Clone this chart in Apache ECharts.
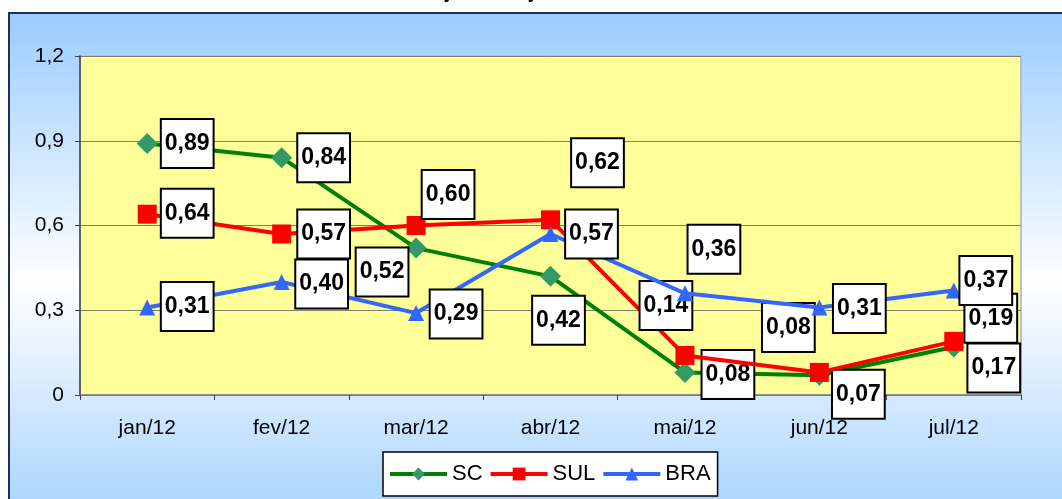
<!DOCTYPE html>
<html>
<head>
<meta charset="utf-8">
<script src="https://cdn.jsdelivr.net/npm/echarts@6/dist/echarts.min.js"></script>
<style>
html,body{margin:0;padding:0;background:#fff;}
#c{width:1062px;height:499px;}
</style>
</head>
<body>
<div id="c"></div>
<script>
const categories = ['jan/12','fev/12','mar/12','abr/12','mai/12','jun/12','jul/12'];
const scValues  = [0.89, 0.84, 0.52, 0.42, 0.08, 0.07, 0.17];
const sulValues = [0.64, 0.57, 0.60, 0.62, 0.14, 0.08, 0.19];
const braValues = [0.31, 0.40, 0.29, 0.57, 0.36, 0.31, 0.37];
const yTicks = [0, 0.3, 0.6, 0.9, 1.2];

// label box offsets (px) relative to each point – styling only
const scLabelOffsets  = [[40,0],[42,0],[-34,24],[8,44],[43,2],[39,19],[40,21]];
const sulLabelOffsets = [[40,-1],[42,0],[32,-31],[47,-57],[-19,-50],[-31,-45],[37,-23]];
const braLabelOffsets = [[40,-1],[40,2],[40,1],[41,0],[29,-44],[40,1],[32,-10]];

const FONT = 'Arial, "Liberation Sans", sans-serif';
const fmt = v => Number(v).toFixed(2).replace('.', ',');

const labelBase = {
  show: true,
  position: 'inside',
  formatter: p => fmt(p.value),
  color: '#000',
  fontFamily: FONT,
  fontWeight: 'bold',
  fontSize: 23,
  lineHeight: 23,
  backgroundColor: '#fff',
  borderColor: '#000',
  borderWidth: 2,
  padding: [12, 3, 12, 3]
};

function buildData(values, offsets) {
  return values.map((v, i) => ({
    value: v,
    label: Object.assign({}, labelBase, { offset: offsets[i] })
  }));
}

const chart = echarts.init(document.getElementById('c'), null, {renderer: 'canvas'});
chart.setOption({
  animation: false,
  backgroundColor: '#fff',
  graphic: [
    {
      type: 'rect',
      z: -100,
      silent: true,
      shape: {x: 9, y: 13, width: 1200, height: 540},
      style: {
        fill: {
          type: 'linear', x: 0, y: 0, x2: 0, y2: 1,
          colorStops: [
            {offset: 0, color: '#99CCFF'},
            {offset: 0.5, color: '#FFFFFF'},
            {offset: 1, color: '#99CCFF'}
          ]
        },
        stroke: '#1F2F4F',
        lineWidth: 2
      }
    },
    {
      type: 'text', z: -50, silent: true,
      left: 445, top: -18,
      style: {text: 'j', font: 'bold 20px ' + FONT, fill: '#000'}
    },
    {
      type: 'text', z: -50, silent: true,
      left: 529, top: -18,
      style: {text: 'j', font: 'bold 20px ' + FONT, fill: '#000'}
    }
  ],
  grid: {
    left: 80, right: 41, top: 56, bottom: 104,
    show: true,
    backgroundColor: '#FFFF99',
    borderColor: '#BFBFBF',
    borderWidth: 2
  },
  legend: {
    left: 383, top: 452,
    data: ['SC', 'SUL', 'BRA'],
    itemWidth: 57, itemHeight: 16, itemGap: 6,
    padding: [11, 7, 11, 5],
    backgroundColor: '#fff',
    borderColor: '#000',
    borderWidth: 1.5,
    lineStyle: {width: 4},
    textStyle: {fontFamily: FONT, fontSize: 22, color: '#000'}
  },
  xAxis: {
    type: 'category',
    data: categories,
    boundaryGap: true,
    axisLine: {lineStyle: {color: '#808080', width: 1.5}},
    axisTick: {show: true, alignWithLabel: false, length: 5, lineStyle: {color: '#404040'}},
    axisLabel: {fontFamily: FONT, fontSize: 21, color: '#000', margin: 23}
  },
  yAxis: {
    type: 'value',
    min: yTicks[0], max: yTicks[yTicks.length - 1], interval: 0.3,
    axisLine: {show: true, lineStyle: {color: '#404040', width: 1.5}},
    axisTick: {show: true, length: 5, lineStyle: {color: '#404040'}},
    splitLine: {show: true, lineStyle: {color: '#7F7F6A', width: 1}},
    axisLabel: {
      fontFamily: FONT, fontSize: 21, color: '#000', margin: 16,
      formatter: v => String(Number(v.toFixed(1))).replace('.', ',')
    }
  },
  series: [
    {
      name: 'SC', type: 'line',
      data: buildData(scValues, scLabelOffsets),
      symbol: 'diamond', symbolSize: 21,
      itemStyle: {color: '#339966'},
      lineStyle: {color: '#008000', width: 4},
      z: 2
    },
    {
      name: 'SUL', type: 'line',
      data: buildData(sulValues, sulLabelOffsets),
      symbol: 'rect', symbolSize: 19,
      itemStyle: {color: '#FF0000'},
      lineStyle: {color: '#FF0000', width: 4},
      z: 3
    },
    {
      name: 'BRA', type: 'line',
      data: buildData(braValues, braLabelOffsets),
      symbol: 'triangle', symbolSize: 16,
      itemStyle: {color: '#3366FF'},
      lineStyle: {color: '#3366FF', width: 4},
      z: 4
    }
  ]
});
</script>
</body>
</html>
